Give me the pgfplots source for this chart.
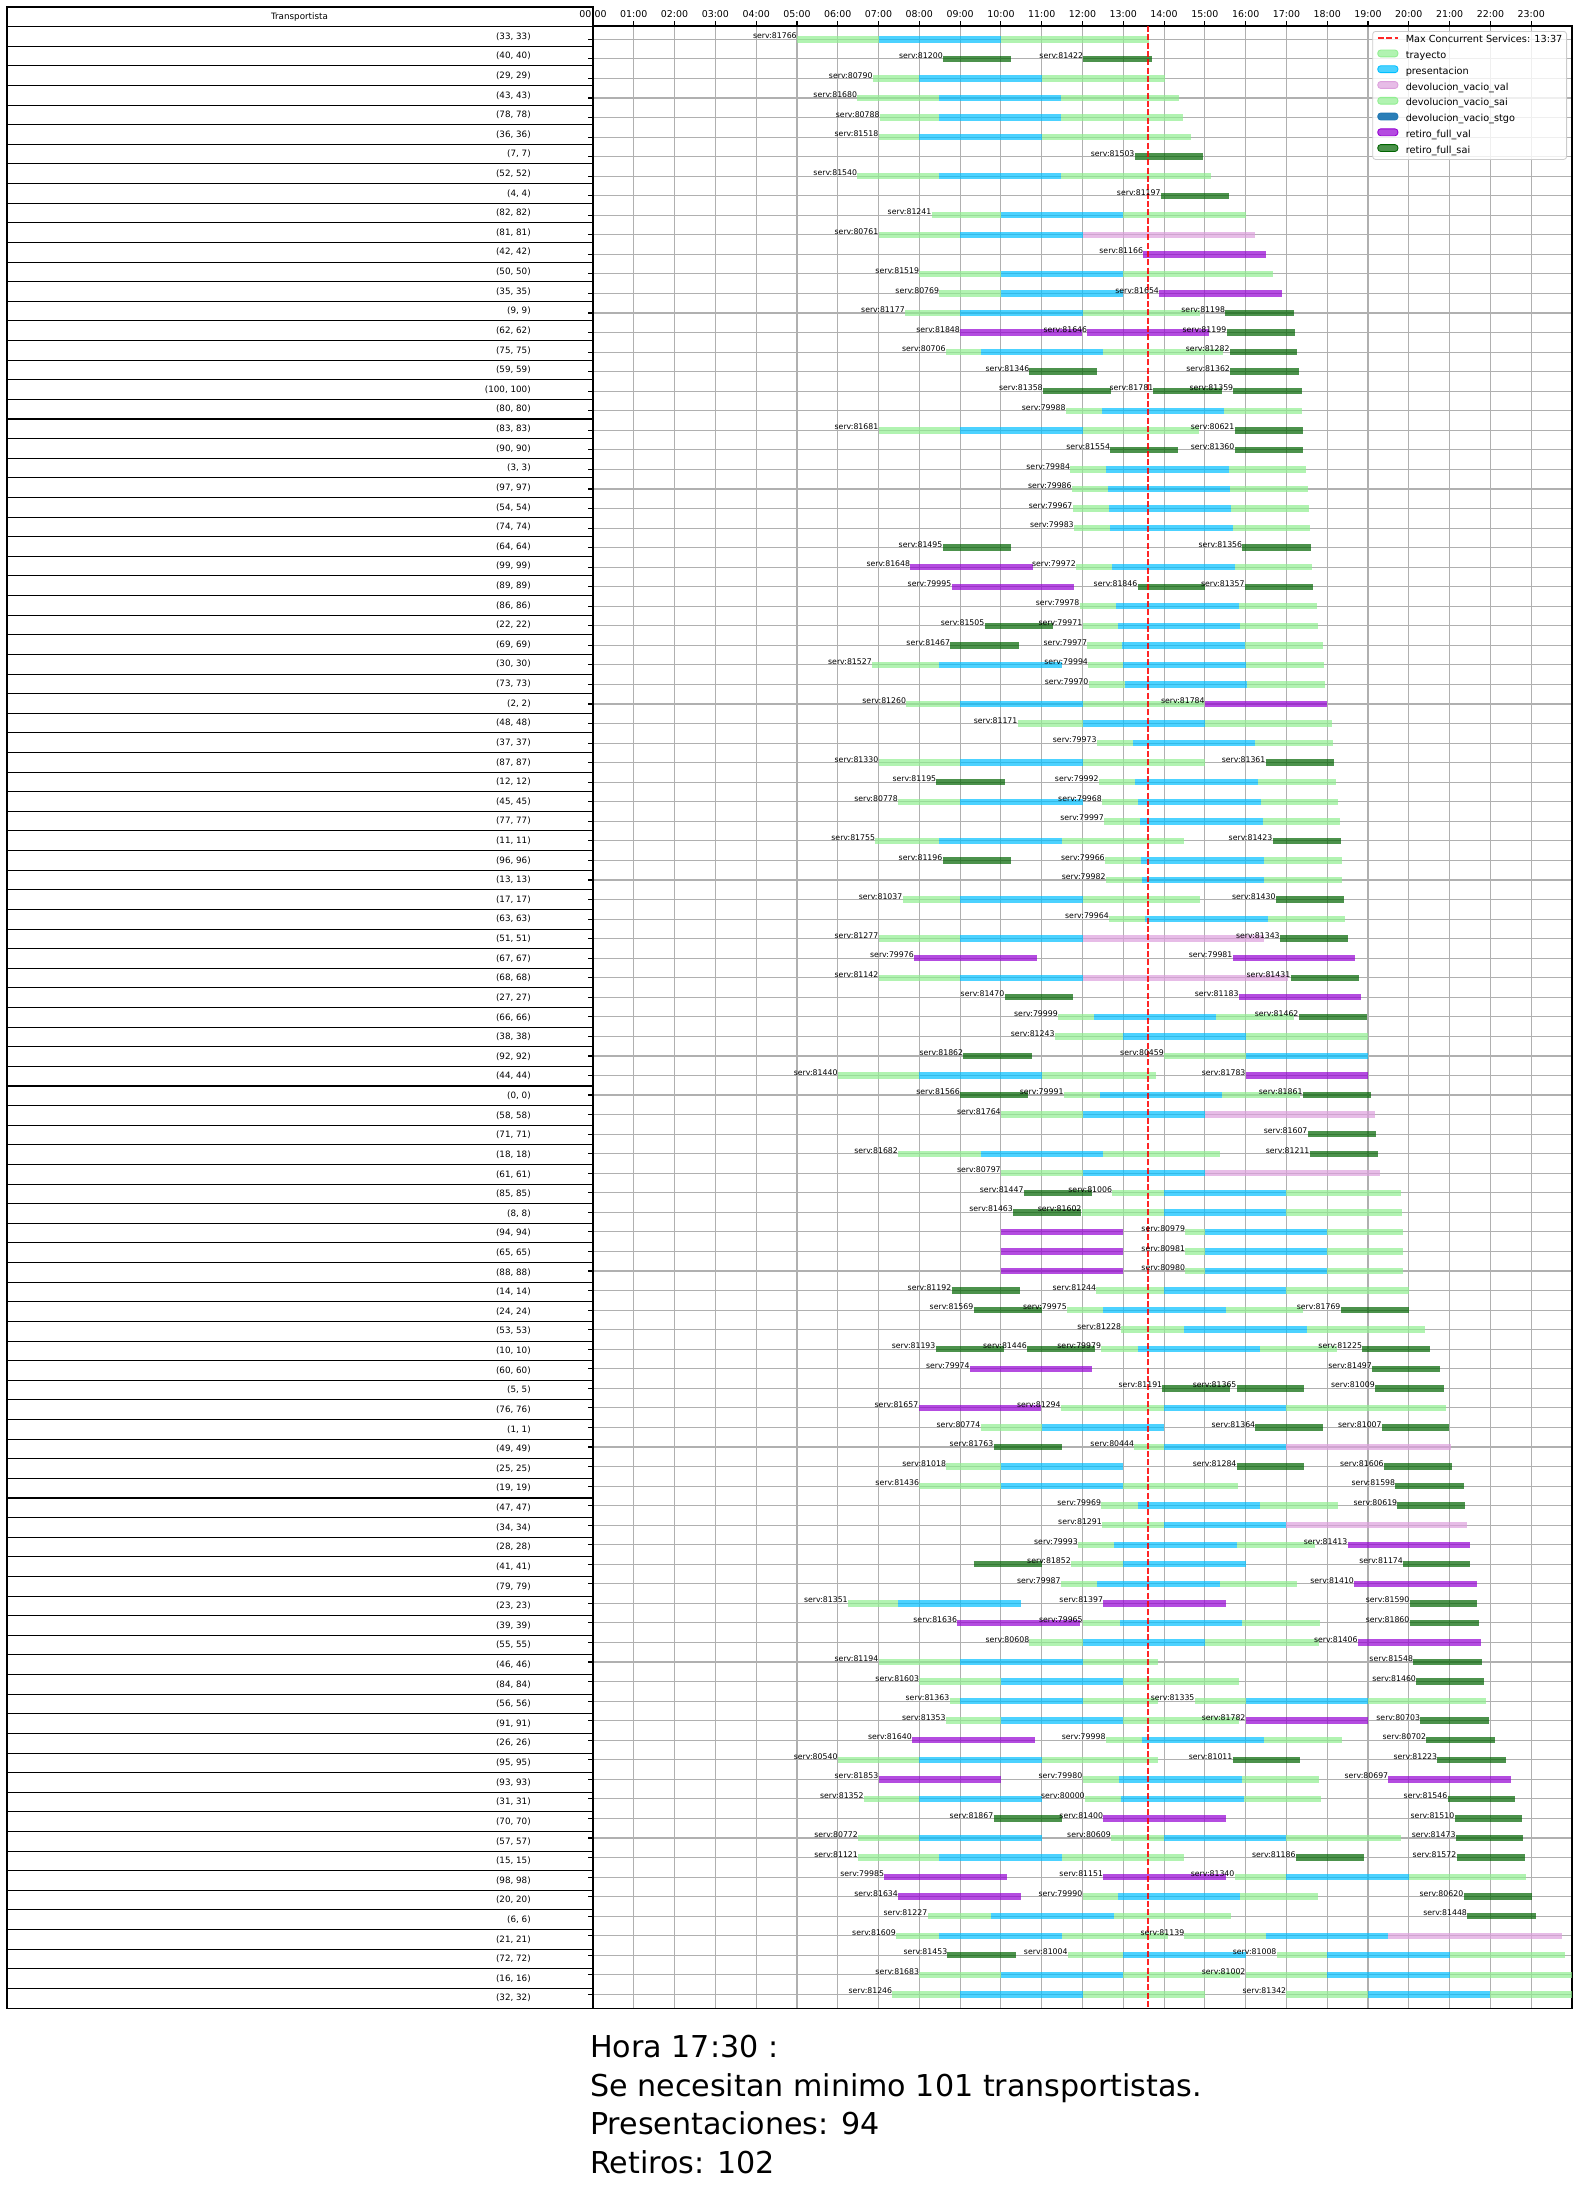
\documentclass[border=0pt]{standalone}
\usepackage{pgfplots}
\pgfplotsset{compat=1.18}
\usepackage{fontspec}
\setmainfont{DejaVu Sans}
\definecolor{trc}{RGB}{144,238,144}
\definecolor{prc}{RGB}{0,191,255}
\definecolor{pkc}{RGB}{221,160,221}
\definecolor{stc}{RGB}{31,119,180}
\definecolor{puc}{RGB}{148,0,211}
\definecolor{dgc}{RGB}{0,100,0}
\definecolor{gridc}{RGB}{176,176,176}
\newcommand\tblfont{\fontsize{6.3}{7}\selectfont}
\newcommand\lblfont{\fontsize{5.6}{6.5}\selectfont}
\newcommand\tickfont{\fontsize{6.8}{8}\selectfont}
\begin{document}
\begin{tikzpicture}
\path[use as bounding box] (0pt,0pt) rectangle (1133.28pt,-1574.64pt);
\begin{scope}[x=0.72pt,y=-0.72pt]
\draw[line width=0.75pt] (7,7) rectangle (593,2008);
\foreach \k in {1,...,101} \draw[line width=0.75pt] (7,{7+19.618*\k}) -- (593,{7+19.618*\k});
\node[font=\tblfont, inner sep=0pt] at (299.5,16.8) {Transportista};
\foreach \n [count=\i from 0] in {33,40,29,43,78,36,7,52,4,82,81,42,50,35,9,62,75,59,100,80,83,90,3,97,54,74,64,99,89,86,22,69,30,73,2,48,37,87,12,45,77,11,96,13,17,63,51,67,68,27,66,38,92,44,0,58,71,18,61,85,8,94,65,88,14,24,53,10,60,5,76,1,49,25,19,47,34,28,41,79,23,39,55,46,84,56,91,26,95,93,31,70,57,15,98,20,6,21,72,16,32}
  \node[font=\tblfont, anchor=east, inner sep=0pt] at (531,{7+19.618*(\i+1.5)}) {(\n, \n)};
\end{scope}
\begin{axis}[
  at={(426.96pt,-18.72pt)}, anchor=north west,
  scale only axis, width=704.88pt, height=1427.04pt,
  xmin=0, xmax=24, ymin=-0.68, ymax=100.70, y dir=reverse,
  xtick={0,...,23},
  xticklabels={00:00,01:00,02:00,03:00,04:00,05:00,06:00,07:00,08:00,09:00,10:00,11:00,12:00,13:00,14:00,15:00,16:00,17:00,18:00,19:00,20:00,21:00,22:00,23:00},
  xtick pos=upper, xticklabel pos=upper,
  xticklabel style={font=\tickfont, inner sep=0pt},
  xticklabel shift=2.2pt,
  ytick={0,...,100}, yticklabels={}, ytick pos=left,
  tick align=outside, major tick length=3.5pt,
  tick style={line width=0.8pt, black},
  grid=major, major grid style={color=gridc, line width=0.8pt},
  axis line style={line width=0.8pt},
  unbounded coords=jump,
  legend style={at={(1,1)}, anchor=north east, xshift=-3.6pt, yshift=-3.6pt,
    font=\fontsize{7}{8}\selectfont, draw=black!20, line width=0.6pt,
    fill=white, fill opacity=0.8, draw opacity=1, text opacity=1,
    rounded corners=2pt, inner xsep=3pt, inner ysep=3pt, row sep=3.4pt, column sep=5pt,
    nodes={inner sep=0pt, text height=5.2pt, text depth=1.5pt}},
  legend cell align=left,
]
% trayecto + devolucion_vacio_sai
\addplot[forget plot, draw=trc, draw opacity=0.7, line width=4.6pt, line cap=butt, mark=none] coordinates {
(5.0,0) (7.0,0) (nan,nan) (10.0,0) (13.62,0) (nan,nan)
(6.86,2) (8.0,2) (nan,nan) (11.0,2) (14.03,2) (nan,nan)
(6.48,3) (8.48,3) (nan,nan) (11.48,3) (14.36,3) (nan,nan)
(7.03,4) (8.48,4) (nan,nan) (11.48,4) (14.46,4) (nan,nan)
(7.0,5) (8.0,5) (nan,nan) (11.0,5) (14.66,5) (nan,nan)
(6.48,7) (8.48,7) (nan,nan) (11.48,7) (15.15,7) (nan,nan)
(8.3,9) (10,9) (nan,nan) (13,9) (16,9) (nan,nan)
(7,10) (9,10) (nan,nan)
(8.0,12) (10,12) (nan,nan) (13,12) (16.66,12) (nan,nan)
(8.49,13) (10,13) (nan,nan)
(7.65,14) (9,14) (nan,nan) (12,14) (14.89,14) (nan,nan)
(8.65,16) (9.5,16) (nan,nan) (12.5,16) (15.45,16) (nan,nan)
(11.59,19) (12.48,19) (nan,nan) (15.48,19) (17.38,19) (nan,nan)
(7.0,20) (9,20) (nan,nan) (12,20) (14.86,20) (nan,nan)
(11.7,22) (12.57,22) (nan,nan) (15.58,22) (17.47,22) (nan,nan)
(11.74,23) (12.63,23) (nan,nan) (15.62,23) (17.52,23) (nan,nan)
(11.76,24) (12.65,24) (nan,nan) (15.65,24) (17.55,24) (nan,nan)
(11.79,25) (12.68,25) (nan,nan) (15.68,25) (17.57,25) (nan,nan)
(11.84,27) (12.73,27) (nan,nan) (15.73,27) (17.63,27) (nan,nan)
(11.93,29) (12.82,29) (nan,nan) (15.83,29) (17.74,29) (nan,nan)
(12.0,30) (12.87,30) (nan,nan) (15.87,30) (17.77,30) (nan,nan)
(12.12,31) (12.97,31) (nan,nan) (15.98,31) (17.89,31) (nan,nan)
(6.84,32) (8.49,32) (nan,nan) (12.14,32) (13.0,32) (nan,nan) (16.02,32) (17.91,32) (nan,nan)
(12.15,33) (13.04,33) (nan,nan) (16.04,33) (17.94,33) (nan,nan)
(7.68,34) (9,34) (nan,nan) (12,34) (14.97,34) (nan,nan)
(10.41,35) (12,35) (nan,nan) (15,35) (18.11,35) (nan,nan)
(12.35,36) (13.24,36) (nan,nan) (16.24,36) (18.14,36) (nan,nan)
(7.0,37) (9,37) (nan,nan) (12,37) (15,37) (nan,nan)
(12.4,38) (13.29,38) (nan,nan) (16.29,38) (18.21,38) (nan,nan)
(7.48,39) (9,39) (nan,nan) (12.48,39) (13.37,39) (nan,nan) (16.37,39) (18.27,39) (nan,nan)
(12.53,40) (13.41,40) (nan,nan) (16.42,40) (18.31,40) (nan,nan)
(6.92,41) (8.49,41) (nan,nan) (11.5,41) (14.5,41) (nan,nan)
(12.55,42) (13.44,42) (nan,nan) (16.45,42) (18.36,42) (nan,nan)
(12.57,43) (13.46,43) (nan,nan) (16.46,43) (18.36,43) (nan,nan)
(7.59,44) (9,44) (nan,nan) (12,44) (14.89,44) (nan,nan)
(12.65,45) (13.54,45) (nan,nan) (16.54,45) (18.44,45) (nan,nan)
(7.0,46) (9,46) (nan,nan)
(7.0,48) (9,48) (nan,nan)
(11.4,50) (12.29,50) (nan,nan) (15.28,50) (17.18,50) (nan,nan)
(11.32,51) (13,51) (nan,nan) (16,51) (19.0,51) (nan,nan)
(14.0,52) (16.0,52) (nan,nan)
(6.0,53) (8.0,53) (nan,nan) (11.0,53) (13.8,53) (nan,nan)
(11.54,54) (12.43,54) (nan,nan) (15.43,54) (17.32,54) (nan,nan)
(10.0,55) (12,55) (nan,nan)
(7.48,57) (9.5,57) (nan,nan) (12.5,57) (15.36,57) (nan,nan)
(10.0,58) (12,58) (nan,nan)
(12.73,59) (14,59) (nan,nan) (17,59) (19.81,59) (nan,nan)
(11.98,60) (14,60) (nan,nan) (17,60) (19.84,60) (nan,nan)
(14.52,61) (15,61) (nan,nan) (18,61) (19.86,61) (nan,nan)
(14.52,62) (15,62) (nan,nan) (18,62) (19.86,62) (nan,nan)
(14.52,63) (15,63) (nan,nan) (18,63) (19.86,63) (nan,nan)
(12.34,64) (14,64) (nan,nan) (17,64) (20.0,64) (nan,nan)
(11.62,65) (12.51,65) (nan,nan) (15.51,65) (17.4,65) (nan,nan)
(12.95,66) (14.5,66) (nan,nan) (17.5,66) (20.4,66) (nan,nan)
(12.46,67) (13.35,67) (nan,nan) (16.34,67) (18.24,67) (nan,nan)
(11.47,70) (14,70) (nan,nan) (17,70) (20.9,70) (nan,nan)
(9.5,71) (11,71) (nan,nan)
(13.27,72) (14,72) (nan,nan)
(8.66,73) (10,73) (nan,nan)
(8.0,74) (10,74) (nan,nan) (13,74) (15.81,74) (nan,nan)
(12.46,75) (13.35,75) (nan,nan) (16.34,75) (18.27,75) (nan,nan)
(12.48,76) (14,76) (nan,nan)
(11.89,77) (12.77,77) (nan,nan) (15.78,77) (17.69,77) (nan,nan)
(11.72,78) (13,78) (nan,nan)
(11.47,79) (12.35,79) (nan,nan) (15.36,79) (17.27,79) (nan,nan)
(6.25,80) (7.48,80) (nan,nan)
(12.01,81) (12.93,81) (nan,nan) (15.92,81) (17.82,81) (nan,nan)
(10.7,82) (12,82) (nan,nan) (15,82) (17.8,82) (nan,nan)
(7.0,83) (9,83) (nan,nan) (12,83) (13.86,83) (nan,nan)
(8.0,84) (10,84) (nan,nan) (13,84) (15.83,84) (nan,nan)
(8.74,85) (9,85) (nan,nan) (12,85) (13.86,85) (nan,nan) (14.75,85) (16,85) (nan,nan) (19,85) (21.88,85) (nan,nan)
(8.65,86) (10,86) (nan,nan) (13,86) (15.83,86) (nan,nan)
(12.57,87) (13.46,87) (nan,nan) (16.46,87) (18.36,87) (nan,nan)
(6.0,88) (8,88) (nan,nan) (11,88) (13.86,88) (nan,nan)
(12.0,89) (12.9,89) (nan,nan) (15.9,89) (17.8,89) (nan,nan)
(6.64,90) (8,90) (nan,nan) (12.06,90) (12.95,90) (nan,nan) (15.95,90) (17.85,90) (nan,nan)
(6.5,92) (8,92) (nan,nan) (12.7,92) (14,92) (nan,nan) (17,92) (19.81,92) (nan,nan)
(6.5,93) (8.49,93) (nan,nan) (11.5,93) (14.5,93) (nan,nan)
(15.73,94) (17,94) (nan,nan) (20,94) (22.86,94) (nan,nan)
(12.0,95) (12.87,95) (nan,nan) (15.87,95) (17.77,95) (nan,nan)
(8.2,96) (9.75,96) (nan,nan) (12.76,96) (15.65,96) (nan,nan)
(7.43,97) (8.49,97) (nan,nan) (11.5,97) (14.1,97) (nan,nan) (14.5,97) (16.49,97) (nan,nan)
(11.64,98) (13,98) (nan,nan) (16.76,98) (18,98) (nan,nan) (21,98) (23.84,98) (nan,nan)
(8.0,99) (10,99) (nan,nan) (13,99) (15.87,99) (nan,nan) (16.0,99) (18,99) (nan,nan) (21,99) (24,99) (nan,nan)
(7.34,100) (9,100) (nan,nan) (12,100) (15,100) (nan,nan) (17.0,100) (19,100) (nan,nan) (22,100) (24,100)
};
% presentacion
\addplot[forget plot, draw=prc, draw opacity=0.7, line width=4.6pt, line cap=butt, mark=none] coordinates {
(7,0) (10,0) (nan,nan) (8,2) (11,2) (nan,nan) (8.48,3) (11.48,3) (nan,nan) (8.48,4) (11.48,4) (nan,nan)
(8,5) (11,5) (nan,nan) (8.48,7) (11.48,7) (nan,nan) (10,9) (13,9) (nan,nan) (9,10) (12,10) (nan,nan)
(10,12) (13,12) (nan,nan) (10,13) (13,13) (nan,nan) (9,14) (12,14) (nan,nan) (9.5,16) (12.5,16) (nan,nan)
(12.48,19) (15.48,19) (nan,nan) (9,20) (12,20) (nan,nan) (12.57,22) (15.58,22) (nan,nan)
(12.63,23) (15.62,23) (nan,nan) (12.65,24) (15.65,24) (nan,nan) (12.68,25) (15.68,25) (nan,nan)
(12.73,27) (15.73,27) (nan,nan) (12.82,29) (15.83,29) (nan,nan) (12.87,30) (15.87,30) (nan,nan)
(12.97,31) (15.98,31) (nan,nan) (8.49,32) (11.49,32) (nan,nan) (13.0,32) (16.02,32) (nan,nan)
(13.04,33) (16.04,33) (nan,nan) (9,34) (12,34) (nan,nan) (12,35) (15,35) (nan,nan)
(13.24,36) (16.24,36) (nan,nan) (9,37) (12,37) (nan,nan) (13.29,38) (16.29,38) (nan,nan)
(9,39) (12,39) (nan,nan) (13.37,39) (16.37,39) (nan,nan) (13.41,40) (16.42,40) (nan,nan)
(8.49,41) (11.5,41) (nan,nan) (13.44,42) (16.45,42) (nan,nan) (13.46,43) (16.46,43) (nan,nan)
(9,44) (12,44) (nan,nan) (13.54,45) (16.54,45) (nan,nan) (9,46) (12,46) (nan,nan) (9,48) (12,48) (nan,nan)
(12.29,50) (15.28,50) (nan,nan) (13,51) (16,51) (nan,nan) (16,52) (19,52) (nan,nan) (8,53) (11,53) (nan,nan)
(12.43,54) (15.43,54) (nan,nan) (12,55) (15,55) (nan,nan) (9.5,57) (12.5,57) (nan,nan) (12,58) (15,58) (nan,nan)
(14,59) (17,59) (nan,nan) (14,60) (17,60) (nan,nan) (15,61) (18,61) (nan,nan) (15,62) (18,62) (nan,nan)
(15,63) (18,63) (nan,nan) (14,64) (17,64) (nan,nan) (12.51,65) (15.51,65) (nan,nan) (14.5,66) (17.5,66) (nan,nan)
(13.35,67) (16.34,67) (nan,nan) (14,70) (17,70) (nan,nan) (11,71) (14,71) (nan,nan) (14,72) (17,72) (nan,nan)
(10,73) (13,73) (nan,nan) (10,74) (13,74) (nan,nan) (13.35,75) (16.34,75) (nan,nan) (14,76) (17,76) (nan,nan)
(12.77,77) (15.78,77) (nan,nan) (13,78) (16,78) (nan,nan) (12.35,79) (15.36,79) (nan,nan) (7.48,80) (10.49,80) (nan,nan)
(12.93,81) (15.92,81) (nan,nan) (12,82) (15,82) (nan,nan) (9,83) (12,83) (nan,nan) (10,84) (13,84) (nan,nan)
(9,85) (12,85) (nan,nan) (16,85) (19,85) (nan,nan) (10,86) (13,86) (nan,nan) (13.46,87) (16.46,87) (nan,nan)
(8,88) (11,88) (nan,nan) (12.9,89) (15.9,89) (nan,nan) (8,90) (11,90) (nan,nan) (12.95,90) (15.95,90) (nan,nan)
(8,92) (11,92) (nan,nan) (14,92) (17,92) (nan,nan) (8.49,93) (11.5,93) (nan,nan) (17,94) (20,94) (nan,nan)
(12.87,95) (15.87,95) (nan,nan) (9.75,96) (12.76,96) (nan,nan) (8.49,97) (11.5,97) (nan,nan) (16.49,97) (19.5,97) (nan,nan)
(13,98) (16,98) (nan,nan) (18,98) (21,98) (nan,nan) (10,99) (13,99) (nan,nan) (18,99) (21,99) (nan,nan)
(9,100) (12,100) (nan,nan) (19,100) (22,100)
};
% devolucion_vacio_val
\addplot[forget plot, draw=pkc, draw opacity=0.7, line width=4.6pt, line cap=butt, mark=none] coordinates {
(12,10) (16.23,10) (nan,nan) (12,46) (16.45,46) (nan,nan) (12,48) (17.04,48) (nan,nan)
(15,55) (19.17,55) (nan,nan) (15,58) (19.3,58) (nan,nan) (17,72) (21.04,72) (nan,nan)
(17,76) (21.43,76) (nan,nan) (19.5,97) (23.75,97)
};
% retiro_full_val
\addplot[forget plot, draw=puc, draw opacity=0.7, line width=4.6pt, line cap=butt, mark=none] coordinates {
(13.49,11) (16.49,11) (nan,nan) (13.88,13) (16.88,13) (nan,nan) (9.0,15) (11.98,15) (nan,nan) (12.12,15) (15.11,15) (nan,nan)
(7.78,27) (10.78,27) (nan,nan) (8.79,28) (11.79,28) (nan,nan) (15.0,34) (18.0,34) (nan,nan)
(7.87,47) (10.88,47) (nan,nan) (15.68,47) (18.69,47) (nan,nan) (15.83,49) (18.83,49) (nan,nan)
(16.0,53) (19.0,53) (nan,nan) (10,61) (13,61) (nan,nan) (10,62) (13,62) (nan,nan) (10,63) (13,63) (nan,nan)
(9.24,68) (12.23,68) (nan,nan) (7.98,70) (10.98,70) (nan,nan) (18.5,77) (21.51,77) (nan,nan)
(18.66,79) (21.66,79) (nan,nan) (12.51,80) (15.51,80) (nan,nan) (8.93,81) (11.93,81) (nan,nan)
(18.75,82) (21.76,82) (nan,nan) (16.0,86) (19.0,86) (nan,nan) (7.82,87) (10.83,87) (nan,nan)
(7.0,89) (10.0,89) (nan,nan) (19.5,89) (22.5,89) (nan,nan) (12.51,91) (15.51,91) (nan,nan)
(7.14,94) (10.14,94) (nan,nan) (12.51,94) (15.51,94) (nan,nan) (7.48,95) (10.49,95)
};
% retiro_full_sai
\addplot[forget plot, draw=dgc, draw opacity=0.7, line width=4.6pt, line cap=butt, mark=none] coordinates {
(8.58,1) (10.25,1) (nan,nan) (12.02,1) (13.70,1) (nan,nan) (13.28,6) (14.95,6) (nan,nan) (13.92,8) (15.6,8) (nan,nan)
(15.5,14) (17.18,14) (nan,nan) (15.53,15) (17.2,15) (nan,nan) (15.61,16) (17.27,16) (nan,nan)
(10.7,17) (12.35,17) (nan,nan) (15.62,17) (17.3,17) (nan,nan)
(11.03,18) (12.7,18) (nan,nan) (13.74,18) (15.41,18) (nan,nan) (15.7,18) (17.38,18) (nan,nan)
(15.73,20) (17.4,20) (nan,nan) (12.68,21) (14.33,21) (nan,nan) (15.73,21) (17.4,21) (nan,nan)
(8.57,26) (10.24,26) (nan,nan) (15.92,26) (17.6,26) (nan,nan) (13.35,28) (15.0,28) (nan,nan) (15.98,28) (17.65,28) (nan,nan)
(9.6,30) (11.28,30) (nan,nan) (8.76,31) (10.44,31) (nan,nan) (16.49,37) (18.16,37) (nan,nan) (8.42,38) (10.09,38) (nan,nan)
(16.66,41) (18.33,41) (nan,nan) (8.57,42) (10.24,42) (nan,nan) (16.74,44) (18.41,44) (nan,nan) (16.84,46) (18.5,46) (nan,nan)
(17.1,48) (18.78,48) (nan,nan) (10.09,49) (11.76,49) (nan,nan) (17.3,50) (18.97,50) (nan,nan) (9.08,52) (10.75,52) (nan,nan)
(9.0,54) (10.66,54) (nan,nan) (17.4,54) (19.08,54) (nan,nan) (17.52,56) (19.2,56) (nan,nan) (17.57,57) (19.25,57) (nan,nan)
(10.56,59) (12.23,59) (nan,nan) (10.3,60) (11.96,60) (nan,nan) (8.79,64) (10.47,64) (nan,nan)
(9.33,65) (11.0,65) (nan,nan) (18.33,65) (20.0,65) (nan,nan)
(8.4,67) (10.07,67) (nan,nan) (10.64,67) (12.31,67) (nan,nan) (18.86,67) (20.53,67) (nan,nan) (19.1,68) (20.77,68) (nan,nan)
(13.96,69) (15.62,69) (nan,nan) (15.78,69) (17.43,69) (nan,nan) (19.17,69) (20.85,69) (nan,nan)
(16.24,71) (17.89,71) (nan,nan) (19.34,71) (20.99,71) (nan,nan) (9.82,72) (11.5,72) (nan,nan)
(15.78,73) (17.43,73) (nan,nan) (19.39,73) (21.07,73) (nan,nan) (19.67,74) (21.34,74) (nan,nan) (19.72,75) (21.37,75) (nan,nan)
(9.33,78) (11.0,78) (nan,nan) (19.86,78) (21.51,78) (nan,nan) (20.02,80) (21.68,80) (nan,nan) (20.02,81) (21.71,81) (nan,nan)
(20.11,83) (21.79,83) (nan,nan) (20.18,84) (21.85,84) (nan,nan) (20.28,86) (21.96,86) (nan,nan) (20.43,87) (22.1,87) (nan,nan)
(15.68,88) (17.32,88) (nan,nan) (20.7,88) (22.38,88) (nan,nan) (20.95,90) (22.61,90) (nan,nan)
(9.82,91) (11.5,91) (nan,nan) (21.12,91) (22.77,91) (nan,nan) (21.15,92) (22.81,92) (nan,nan)
(17.23,93) (18.91,93) (nan,nan) (21.17,93) (22.84,93) (nan,nan) (21.34,95) (23.02,95) (nan,nan)
(21.43,96) (23.11,96) (nan,nan) (8.69,98) (10.36,98)
};
% service labels
\addplot[forget plot, only marks, mark=none, nodes near coords={serv:\pgfplotspointmeta}, point meta=explicit symbolic,
  every node near coord/.append style={anchor=south east, inner sep=0pt, font=\lblfont, text=black}]
  table[x=x, y=y, meta=id] {
x y id
5.0 0 81766
8.58 1 81200
12.02 1 81422
6.86 2 80790
6.48 3 81680
7.03 4 80788
7.0 5 81518
13.28 6 81503
6.48 7 81540
13.92 8 81197
8.3 9 81241
7.0 10 80761
13.49 11 81166
8.0 12 81519
8.49 13 80769
13.88 13 81654
7.65 14 81177
15.5 14 81198
9.0 15 81848
12.12 15 81646
15.53 15 81199
8.65 16 80706
15.61 16 81282
10.7 17 81346
15.62 17 81362
11.03 18 81358
13.74 18 81781
15.7 18 81359
11.59 19 79988
7.0 20 81681
15.73 20 80621
12.68 21 81554
15.73 21 81360
11.7 22 79984
11.74 23 79986
11.76 24 79967
11.79 25 79983
8.57 26 81495
15.92 26 81356
7.78 27 81648
11.84 27 79972
8.79 28 79995
13.35 28 81846
15.98 28 81357
11.93 29 79978
9.6 30 81505
12.0 30 79971
8.76 31 81467
12.12 31 79977
6.84 32 81527
12.14 32 79994
12.15 33 79970
7.68 34 81260
15.0 34 81784
10.41 35 81171
12.35 36 79973
7.0 37 81330
16.49 37 81361
8.42 38 81195
12.4 38 79992
7.48 39 80778
12.48 39 79968
12.53 40 79997
6.92 41 81755
16.66 41 81423
8.57 42 81196
12.55 42 79966
12.57 43 79982
7.59 44 81037
16.74 44 81430
12.65 45 79964
7.0 46 81277
16.84 46 81343
7.87 47 79976
15.68 47 79981
7.0 48 81142
17.1 48 81431
10.09 49 81470
15.83 49 81183
11.4 50 79999
17.3 50 81462
11.32 51 81243
9.08 52 81862
14.0 52 80459
6.0 53 81440
16.0 53 81783
9.0 54 81566
11.54 54 79991
17.4 54 81861
10.0 55 81764
17.52 56 81607
7.48 57 81682
17.57 57 81211
10.0 58 80797
10.56 59 81447
12.73 59 81006
10.3 60 81463
11.98 60 81602
14.52 61 80979
14.52 62 80981
14.52 63 80980
8.79 64 81192
12.34 64 81244
9.33 65 81569
11.62 65 79975
18.33 65 81769
12.95 66 81228
8.4 67 81193
10.64 67 81446
12.46 67 79979
18.86 67 81225
9.24 68 79974
19.1 68 81497
13.96 69 81191
15.78 69 81365
19.17 69 81009
7.98 70 81657
11.47 70 81294
9.5 71 80774
16.24 71 81364
19.34 71 81007
9.82 72 81763
13.27 72 80444
8.66 73 81018
15.78 73 81284
19.39 73 81606
8.0 74 81436
19.67 74 81598
12.46 75 79969
19.72 75 80619
12.48 76 81291
11.89 77 79993
18.5 77 81413
11.72 78 81852
19.86 78 81174
11.47 79 79987
18.66 79 81410
6.25 80 81351
12.51 80 81397
20.02 80 81590
8.93 81 81636
12.01 81 79965
20.02 81 81860
10.7 82 80608
18.75 82 81406
7.0 83 81194
20.11 83 81548
8.0 84 81603
20.18 84 81460
8.74 85 81363
14.75 85 81335
8.65 86 81353
16.0 86 81782
20.28 86 80703
7.82 87 81640
12.57 87 79998
20.43 87 80702
6.0 88 80540
15.68 88 81011
20.7 88 81223
7.0 89 81853
12.0 89 79980
19.5 89 80697
6.64 90 81352
12.06 90 80000
20.95 90 81546
9.82 91 81867
12.51 91 81400
21.12 91 81510
6.5 92 80772
12.7 92 80609
21.15 92 81473
6.5 93 81121
17.23 93 81186
21.17 93 81572
7.14 94 79985
12.51 94 81151
15.73 94 81340
7.48 95 81634
12.0 95 79990
21.34 95 80620
8.2 96 81227
21.43 96 81448
7.43 97 81609
14.5 97 81139
8.69 98 81453
11.64 98 81004
16.76 98 81008
8.0 99 81683
16.0 99 81002
7.34 100 81246
17.0 100 81342
};
% max concurrent line
\addplot[forget plot, red, opacity=0.85, line width=1.4pt, dash pattern=on 4.2pt off 1.8pt, mark=none] coordinates {(13.617,-0.68) (13.617,100.70)};
% legend
\addlegendimage{legend image code/.code={\draw[red, opacity=0.85, line width=1.4pt, dash pattern=on 4.2pt off 1.8pt] (0pt,1.85pt) -- (14.4pt,1.85pt);}}
\addlegendentry{Max Concurrent Services: 13:37}
\addlegendimage{legend image code/.code={\fill[trc, fill opacity=0.7] (0pt,-0.6pt) rectangle (14.4pt,4.3pt);}}
\addlegendentry{trayecto}
\addlegendimage{legend image code/.code={\fill[prc, fill opacity=0.7] (0pt,-0.6pt) rectangle (14.4pt,4.3pt);}}
\addlegendentry{presentacion}
\addlegendimage{legend image code/.code={\fill[pkc, fill opacity=0.7] (0pt,-0.6pt) rectangle (14.4pt,4.3pt);}}
\addlegendentry{devolucion\_vacio\_val}
\addlegendimage{legend image code/.code={\fill[trc, fill opacity=0.7] (0pt,-0.6pt) rectangle (14.4pt,4.3pt);}}
\addlegendentry{devolucion\_vacio\_sai}
\addlegendimage{legend image code/.code={\fill[stc, fill opacity=0.95] (0pt,-0.6pt) rectangle (14.4pt,4.3pt);}}
\addlegendentry{devolucion\_vacio\_stgo}
\addlegendimage{legend image code/.code={\fill[puc, fill opacity=0.7] (0pt,-0.6pt) rectangle (14.4pt,4.3pt);}}
\addlegendentry{retiro\_full\_val}
\addlegendimage{legend image code/.code={\fill[dgc, fill opacity=0.7] (0pt,-0.6pt) rectangle (14.4pt,4.3pt);}}
\addlegendentry{retiro\_full\_sai}
\end{axis}
\begin{scope}[x=0.72pt,y=-0.72pt]
\node[anchor=base west, inner sep=0pt, font=\fontsize{21.7}{26}\selectfont] at (590,2057) {Hora 17:30 :};
\node[anchor=base west, inner sep=0pt, font=\fontsize{21.7}{26}\selectfont] at (590,2096) {Se necesitan minimo 101 transportistas.};
\node[anchor=base west, inner sep=0pt, font=\fontsize{21.7}{26}\selectfont] at (590,2134.5) {Presentaciones: 94};
\node[anchor=base west, inner sep=0pt, font=\fontsize{21.7}{26}\selectfont] at (590,2173) {Retiros: 102};
\end{scope}
\end{tikzpicture}
\end{document}
